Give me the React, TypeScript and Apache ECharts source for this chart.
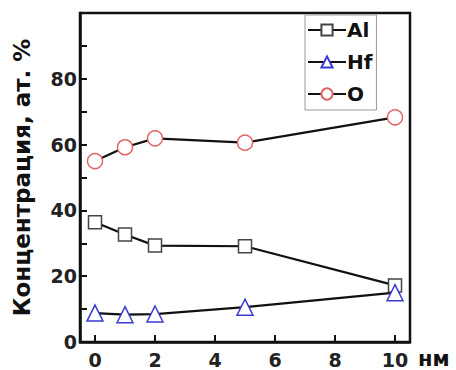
import React, { useEffect, useRef } from "react";
import * as echarts from "echarts";

const thickness = [0, 1, 2, 5, 10];
const alValues = [36.4, 32.7, 29.3, 29.1, 17.2];
const hfValues = [8.8, 8.3, 8.5, 10.6, 15.0];
const oValues = [55.0, 59.2, 61.9, 60.6, 68.3];
const xTicks = [0, 2, 4, 6, 8, 10];
const yLabels = [0, 20, 40, 60, 80];
const yTicks = [0, 10, 20, 30, 40, 50, 60, 70, 80, 90];

const FONT = "'DejaVu Sans', Arial, sans-serif";

export default function App() {
  const ref = useRef<HTMLDivElement>(null);
  useEffect(() => {
    document.body.style.margin = "0";
    const chart = echarts.init(ref.current!, null, { renderer: "svg" });
    const pts = (ys: number[]) => thickness.map((x, i) => [x, ys[i]]);
    const mk = (name: string, ys: number[], symbol: string, color: string, size: number) => ({
      name,
      type: "line",
      data: pts(ys),
      symbol,
      symbolSize: size,
      lineStyle: { color: "#111", width: 2.2 },
      itemStyle: { color: "#fff", borderColor: color, borderWidth: 1.5 },
      z: 3,
    });
    chart.setOption({
      animation: false,
      grid: { left: 80, top: 13, right: 46, bottom: 28, show: true, borderColor: "#111", borderWidth: 2.5 },
      xAxis: {
        type: "value",
        min: -0.5,
        max: 10.5,
        axisLine: { show: true, onZero: false, lineStyle: { color: "#111", width: 2.5 } },
        axisTick: { show: true, inside: true, length: 7, customValues: xTicks, lineStyle: { color: "#111", width: 2 } },
        axisLabel: { customValues: xTicks, fontFamily: FONT, fontWeight: "bold", fontSize: 19, color: "#222", margin: 8 },
        splitLine: { show: false },
      },
      yAxis: {
        type: "value",
        min: 0,
        max: 100,
        name: "Концентрация, ат. %",
        nameLocation: "middle",
        nameGap: 47,
        nameTextStyle: { fontFamily: FONT, fontWeight: "bold", fontSize: 23, color: "#111" },
        axisLine: { show: true, onZero: false, lineStyle: { color: "#111", width: 2.5 } },
        axisTick: { show: true, inside: true, length: 7, customValues: yTicks, lineStyle: { color: "#111", width: 2 } },
        axisLabel: { customValues: yLabels, fontFamily: FONT, fontWeight: "bold", fontSize: 19, color: "#222", margin: 3 },
        splitLine: { show: false },
      },
      legend: {
        orient: "vertical",
        left: 305,
        top: 15,
        itemWidth: 38,
        itemHeight: 14,
        itemGap: 12,
        padding: [5, 4, 6, 2],
        borderColor: "#999",
        borderWidth: 1,
        backgroundColor: "#fff",
        textStyle: { fontFamily: FONT, fontWeight: "bold", fontSize: 20, color: "#111", padding: [0, 0, 0, -4] },
        data: ["Al", "Hf", "O"],
      },
      graphic: [
        {
          type: "text",
          left: 418,
          top: 348,
          style: { text: "нм", fontFamily: FONT, fontWeight: "bold", fontSize: 21, fill: "#111" },
        },
      ],
      series: [
        mk("Al", alValues, "rect", "#444", 13),
        mk("Hf", hfValues, "triangle", "#3a3ad0", 16),
        mk("O", oValues, "circle", "#e06666", 15),
      ],
    });
    return () => chart.dispose();
  }, []);
  return <div ref={ref} style={{ width: 456, height: 370 }} />;
}
